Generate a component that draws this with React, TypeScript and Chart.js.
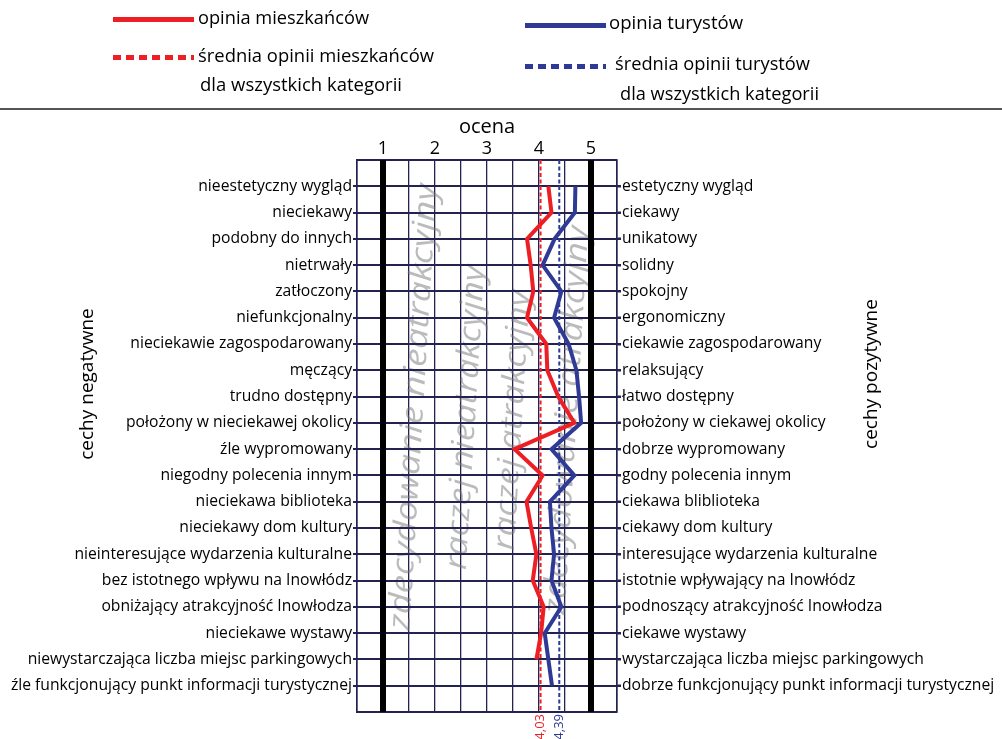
import React, { useEffect, useRef } from 'react';
import { Chart, registerables } from 'chart.js';

Chart.register(...registerables);

// ---------- DATA ----------
const negativeTraits = [
  'nieestetyczny wygląd',
  'nieciekawy',
  'podobny do innych',
  'nietrwały',
  'zatłoczony',
  'niefunkcjonalny',
  'nieciekawie zagospodarowany',
  'męczący',
  'trudno dostępny',
  'położony w nieciekawej okolicy',
  'źle wypromowany',
  'niegodny polecenia innym',
  'nieciekawa biblioteka',
  'nieciekawy dom kultury',
  'nieinteresujące wydarzenia kulturalne',
  'bez istotnego wpływu na Inowłódz',
  'obniżający atrakcyjność Inowłodza',
  'nieciekawe wystawy',
  'niewystarczająca liczba miejsc parkingowych',
  'źle funkcjonujący punkt informacji turystycznej',
];

const positiveTraits = [
  'estetyczny wygląd',
  'ciekawy',
  'unikatowy',
  'solidny',
  'spokojny',
  'ergonomiczny',
  'ciekawie zagospodarowany',
  'relaksujący',
  'łatwo dostępny',
  'położony w ciekawej okolicy',
  'dobrze wypromowany',
  'godny polecenia innym',
  'ciekawa bliblioteka',
  'ciekawy dom kultury',
  'interesujące wydarzenia kulturalne',
  'istotnie wpływający na Inowłódz',
  'podnoszący atrakcyjność Inowłodza',
  'ciekawe wystawy',
  'wystarczająca liczba miejsc parkingowych',
  'dobrze funkcjonujący punkt informacji turystycznej',
];

const residentsScores: (number | null)[] = [
  4.18, 4.24, 3.77, 3.84, 3.89, 3.77, 4.14, 4.16, 4.37, 4.68,
  3.53, 4.07, 3.76, 3.85, 3.95, 3.88, 4.09, 4.04, 3.95, null,
];

const touristsScores: (number | null)[] = [
  4.70, 4.69, 4.30, 4.07, 4.43, 4.29, 4.57, 4.72, 4.77, 4.81,
  4.24, 4.68, 4.21, 4.24, 4.29, 4.24, 4.43, 4.11, 4.18, 4.25,
];

const residentsMean = 4.03;
const touristsMean = 4.39;
const residentsMeanLabel = '4,03';
const touristsMeanLabel = '4,39';

const scoreTickLabels = ['1', '2', '3', '4', '5'];
const bandLabels = [
  'zdecydowanie nieatrakcyjny',
  'raczej nieatrakcyjny',
  'raczej atrakcyjny',
  'zdecydowanie atrakcyjny',
];

const legendResidents = 'opinia mieszkańców';
const legendResidentsMean = ['średnia opinii mieszkańców', 'dla wszystkich kategorii'];
const legendTourists = 'opinia turystów';
const legendTouristsMean = ['średnia opinii turystów', 'dla wszystkich kategorii'];
const axisTitle = 'ocena';
const leftTitle = 'cechy negatywne';
const rightTitle = 'cechy pozytywne';

// ---------- STYLE ----------
const RED = 'rgb(237,30,36)';
const BLUE = 'rgb(46,58,150)';
const GRID = 'rgb(36,34,80)';
const FONT = '"Open Sans"';

const toPoints = (arr: (number | null)[]) =>
  arr
    .map((v, i) => (v == null ? null : { x: v, y: i }))
    .filter((p): p is { x: number; y: number } => p !== null);

const fitText = (
  ctx: CanvasRenderingContext2D,
  text: string,
  x: number,
  y: number,
  width: number,
  size: number,
  color = '#000'
) => {
  ctx.save();
  ctx.font = `${size}px ${FONT}`;
  const w = ctx.measureText(text).width;
  ctx.translate(x, y);
  ctx.scale(width / w, 1);
  ctx.fillStyle = color;
  ctx.textAlign = 'left';
  ctx.textBaseline = 'middle';
  ctx.fillText(text, 0, 0);
  ctx.restore();
};

const drawRowLines = (chart: any) => {
  const { ctx, scales, chartArea } = chart;
  const y = scales.y;
  ctx.save();
  ctx.setLineDash([]);
  ctx.globalAlpha = 1;
  ctx.fillStyle = GRID;
  for (let v = -1; v <= negativeTraits.length; v++) {
    const py = Math.round(y.getPixelForValue(v));
    const edge = v < 0 || v >= negativeTraits.length;
    const x0 = Math.round(chartArea.left) - (edge ? 0 : 4);
    const x1 = Math.round(chartArea.right) + (edge ? 0 : 4);
    ctx.fillRect(x0, py - 1, x1 - x0, 2);
  }
  ctx.restore();
};

const decorPlugin = {
  id: 'decor',
  beforeDatasetsDraw(chart: any) {
    const { ctx, scales, chartArea } = chart;
    const x = scales.x;
    const y = scales.y;

    // watermark band labels: [x center value, y center value, length in rows]
    const place = [
      [1.6, 8.4, 17.0],
      [2.6, 8.8, 11.6],
      [3.5, 8.9, 9.9],
      [4.55, 8.9, 14.8],
    ];
    bandLabels.forEach((t, i) => {
      const [cxv, cyv, lenv] = place[i];
      const cx = x.getPixelForValue(cxv);
      const cy = y.getPixelForValue(cyv);
      const len = Math.abs(y.getPixelForValue(cyv + lenv / 2) - y.getPixelForValue(cyv - lenv / 2));
      ctx.save();
      ctx.translate(cx, cy);
      ctx.rotate((-86.5 * Math.PI) / 180);
      ctx.font = `italic 31px ${FONT}`;
      const w = ctx.measureText(t).width || 1;
      ctx.scale(len / w, 1);
      ctx.fillStyle = 'rgba(120,120,120,0.5)';
      ctx.textAlign = 'center';
      ctx.textBaseline = 'middle';
      ctx.fillText(t, 0, 0);
      ctx.restore();
    });

    drawRowLines(chart);

    // thick lines at 1 and 5
    ctx.save();
    ctx.fillStyle = '#000';
    [1, 5].forEach((v) => {
      const px = Math.round(x.getPixelForValue(v));
      ctx.fillRect(px - 3, Math.round(chartArea.top), 6, Math.round(chartArea.bottom - chartArea.top));
    });
    ctx.restore();
  },
  afterDraw(chart: any) {
    const { ctx, scales, chartArea } = chart;
    const x = scales.x;
    // legend
    ctx.save();
    ctx.lineCap = 'butt';
    ctx.lineWidth = 5;
    ctx.strokeStyle = RED;
    ctx.beginPath(); ctx.moveTo(113, 19.5); ctx.lineTo(194, 19.5); ctx.stroke();
    ctx.setLineDash([8, 5]);
    ctx.beginPath(); ctx.moveTo(113, 57.5); ctx.lineTo(194, 57.5); ctx.stroke();
    ctx.setLineDash([]);
    ctx.strokeStyle = BLUE;
    ctx.beginPath(); ctx.moveTo(525, 25.5); ctx.lineTo(606, 25.5); ctx.stroke();
    ctx.setLineDash([8, 5]);
    ctx.beginPath(); ctx.moveTo(525, 66.5); ctx.lineTo(606, 66.5); ctx.stroke();
    ctx.setLineDash([]);
    ctx.restore();

    fitText(ctx, legendResidents, 198, 19, 171, 18);
    fitText(ctx, legendResidentsMean[0], 198, 57, 236, 18);
    fitText(ctx, legendResidentsMean[1], 200, 86, 202, 18);
    fitText(ctx, legendTourists, 609, 24, 134, 18);
    fitText(ctx, legendTouristsMean[0], 615, 65, 195, 18);
    fitText(ctx, legendTouristsMean[1], 620, 95, 199, 18);

    // separator
    ctx.save();
    ctx.fillStyle = '#555';
    ctx.fillRect(0, 108, 1002, 2);
    ctx.restore();

    // side titles
    const midY = (chartArea.top + chartArea.bottom) / 2;
    const side = (text: string, cx: number, cy: number) => {
      ctx.save();
      ctx.font = `19px ${FONT}`;
      ctx.fillStyle = '#000';
      ctx.textAlign = 'center';
      ctx.textBaseline = 'middle';
      ctx.translate(cx, cy);
      ctx.rotate(-Math.PI / 2);
      ctx.fillText(text, 0, 0);
      ctx.restore();
    };
    side(leftTitle, 88, midY - 52);
    side(rightTitle, 872, midY - 62);

    // mean value labels below the plot
    const drawMean = (val: number, label: string, color: string) => {
      ctx.save();
      ctx.font = `13px ${FONT}`;
      ctx.fillStyle = color;
      ctx.textAlign = 'right';
      ctx.textBaseline = 'middle';
      ctx.translate(x.getPixelForValue(val), chartArea.bottom + 2);
      ctx.rotate(-Math.PI / 2);
      ctx.fillText(label, 0, 0);
      ctx.restore();
    };
    drawMean(residentsMean, residentsMeanLabel, RED);
    drawMean(touristsMean, touristsMeanLabel, BLUE);
  },
};

export default function App() {
  const ref = useRef<HTMLCanvasElement>(null);

  useEffect(() => {
    const canvas = ref.current;
    if (!canvas) return;
    const rowTicks = Array.from({ length: negativeTraits.length + 2 }, (_, i) => ({ value: i - 1 }));
    const xTicks = Array.from({ length: 11 }, (_, i) => ({ value: 0.5 + i * 0.5 }));
    const isEdgeRow = (v: number) => v < 0 || v >= negativeTraits.length;

    const chart = new Chart(canvas, {
      type: 'scatter',
      data: {
        datasets: [
          {
            label: legendResidents,
            data: toPoints(residentsScores),
            showLine: true,
            borderColor: RED,
            backgroundColor: RED,
            borderWidth: 4,
            pointRadius: 0,
            tension: 0,
            yAxisID: 'y',
            order: 2,
          },
          {
            label: legendTourists,
            data: toPoints(touristsScores),
            showLine: true,
            borderColor: BLUE,
            backgroundColor: BLUE,
            borderWidth: 4,
            pointRadius: 0,
            tension: 0,
            yAxisID: 'y',
            order: 1,
          },
          {
            label: legendResidentsMean.join(' '),
            data: [
              { x: residentsMean, y: -1 },
              { x: residentsMean, y: negativeTraits.length },
            ],
            showLine: true,
            borderColor: RED,
            borderWidth: 2,
            borderDash: [4, 2.5],
            pointRadius: 0,
            yAxisID: 'y',
            order: 3,
          },
          {
            label: legendTouristsMean.join(' '),
            data: [
              { x: touristsMean, y: -1 },
              { x: touristsMean, y: negativeTraits.length },
            ],
            showLine: true,
            borderColor: BLUE,
            borderWidth: 2,
            borderDash: [4, 2.5],
            pointRadius: 0,
            yAxisID: 'y',
            order: 3,
          },
        ],
      },
      options: {
        responsive: false,
        animation: false,
        events: [],
        layout: { padding: { top: 115, left: 0, right: 0, bottom: 27 } },
        plugins: {
          legend: { display: false },
          tooltip: { enabled: false },
          title: { display: false },
        },
        scales: {
          x: {
            type: 'linear',
            position: 'top',
            min: 0.5,
            max: 5.5,
            afterBuildTicks: (s: any) => {
              s.ticks = xTicks.map((t) => ({ ...t }));
            },
            afterFit: (s: any) => {
              s.height = 45;
            },
            ticks: {
              autoSkip: false,
              maxRotation: 0,
              padding: 0,
              color: '#000',
              font: { family: FONT, size: 18 },
              callback: (v: any) => {
                const n = Number(v);
                return Number.isInteger(n) ? scoreTickLabels[n - 1] ?? '' : '';
              },
            },
            grid: {
              drawTicks: false,
              color: GRID,
              lineWidth: 1.3,
            },
            border: { display: false },
            title: {
              display: true,
              text: axisTitle,
              color: '#000',
              font: { family: FONT, size: 20 },
              padding: { top: 0, bottom: 0 },
            },
          },
          y: {
            type: 'linear',
            position: 'left',
            min: -1,
            max: negativeTraits.length,
            reverse: true,
            afterBuildTicks: (s: any) => {
              s.ticks = rowTicks.map((t) => ({ ...t }));
            },
            afterFit: (s: any) => {
              s.width = 357;
            },
            ticks: {
              autoSkip: false,
              padding: 1,
              color: '#000',
              font: { family: FONT, size: 15.7 },
              callback: (v: any) => {
                const n = Number(v);
                return isEdgeRow(n) ? '' : negativeTraits[n];
              },
            },
            grid: {
              drawOnChartArea: true,
              color: GRID,
              lineWidth: 2,
              tickLength: 4,
              tickColor: (c: any) => (c.tick && isEdgeRow(c.tick.value) ? 'rgba(0,0,0,0)' : GRID),
              tickWidth: 2,
            },
            border: { display: true, color: GRID, width: 1.6 },
          },
          y2: {
            type: 'linear',
            position: 'right',
            min: -1,
            max: positiveTraits.length,
            reverse: true,
            afterBuildTicks: (s: any) => {
              s.ticks = rowTicks.map((t) => ({ ...t }));
            },
            afterFit: (s: any) => {
              s.width = 385;
            },
            ticks: {
              autoSkip: false,
              padding: 1,
              color: '#000',
              font: { family: FONT, size: 15.7 },
              callback: (v: any) => {
                const n = Number(v);
                return isEdgeRow(n) ? '' : positiveTraits[n];
              },
            },
            grid: {
              drawOnChartArea: false,
              tickLength: 4,
              tickColor: (c: any) => (c.tick && isEdgeRow(c.tick.value) ? 'rgba(0,0,0,0)' : GRID),
              tickWidth: 2,
            },
            border: { display: true, color: GRID, width: 1.6 },
          },
        },
      } as any,
      plugins: [decorPlugin],
    });

    return () => chart.destroy();
  }, []);

  return (
    <div style={{ position: 'absolute', left: 0, top: 0, width: 1002, height: 739, background: '#fff' }}>
      <canvas ref={ref} width={1002} height={739} style={{ display: 'block', width: 1002, height: 739 }} />
    </div>
  );
}
